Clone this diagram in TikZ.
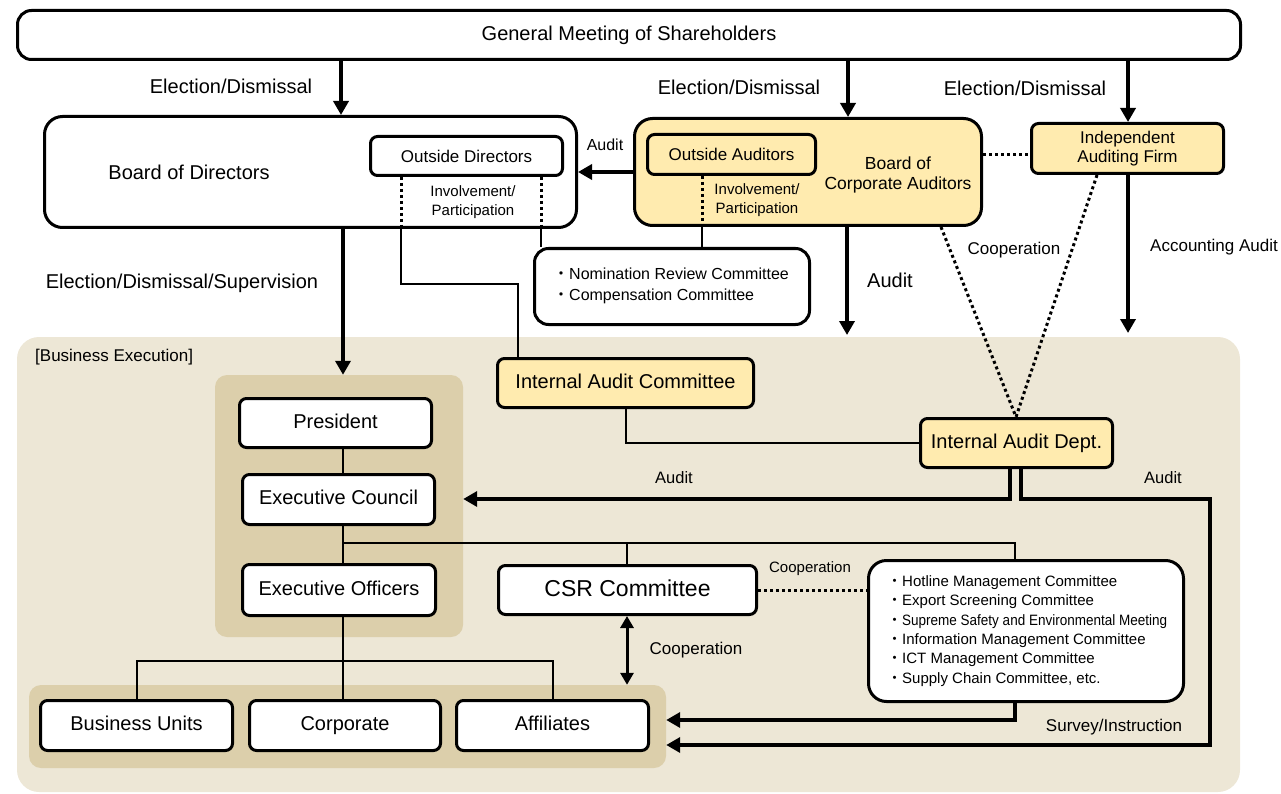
\documentclass[tikz,border=0pt]{standalone}
\usepackage{fontspec}
\setmainfont{Liberation Sans}
\newfontfamily\cjk{Noto Sans CJK JP}
\usetikzlibrary{arrows.meta}
\definecolor{bgbeige}{HTML}{EDE7D6}
\definecolor{grpbeige}{HTML}{DCCFAB}
\definecolor{ylw}{HTML}{FFEBAF}
\newcommand\fsz[2]{\fontsize{#1pt}{#2pt}\selectfont}
\newcommand\jdot{{\cjk ・}}
\tikzset{
  box/.style={draw, line width=3pt, rounded corners=7pt, fill=white, inner sep=0pt, align=center, font=\fsz{20}{24}},
  ybox/.style={box, fill=ylw},
  one/.style={text height=14.5pt, text depth=4pt},
  grp/.style={fill=grpbeige, rounded corners=12pt, inner sep=0pt},
  lbl/.style={inner sep=0pt, align=center, font=\fsz{20}{24}},
  conn/.style={line width=2.2pt},
  dotl/.style={line width=3pt, dash pattern=on 3pt off 3pt},
  arr/.style={line width=4.5pt, -{Triangle[length=14pt,width=15pt]}},
  darr/.style={line width=3pt, {Triangle[length=12pt,width=13pt]}-{Triangle[length=12pt,width=13pt]}},
}
\begin{document}
\begin{tikzpicture}[x=1pt,y=-1pt]
\useasboundingbox (0,0) rectangle (1281,794);
% backgrounds
\node[fill=bgbeige, rounded corners=22pt, minimum width=1223pt, minimum height=455pt, inner sep=0pt] (biz) at (628.5,564.5) {};
\node[grp, minimum width=248pt, minimum height=262pt] (egrp) at (339,506) {};
\node[grp, minimum width=637pt, minimum height=83pt] (bgrp) at (347.5,726.5) {};
\node[lbl, anchor=west, font=\fsz{17}{20}] (bizlbl) at (35,357) {[Business Execution]};
% top boxes
\node[box, one, rounded corners=14pt, minimum width=1223pt, minimum height=49pt] (gm) at (629,35) {General Meeting of Shareholders};
\node[box, rounded corners=18pt, minimum width=532pt, minimum height=111pt] (bod) at (310.5,172) {};
\node[lbl] (bodlbl) at (189,172) {Board of Directors};
\node[box, minimum width=192pt, minimum height=39pt, font=\fsz{17}{20}] (od) at (466.5,156) {Outside Directors};
\node[ybox, rounded corners=18pt, minimum width=347pt, minimum height=107pt] (bca) at (808,172) {};
\node[lbl, font=\fsz{17.5}{19.5}] (bcalbl) at (898,175) {Board of\\Corporate Auditors};
\node[ybox, minimum width=168pt, minimum height=40pt, font=\fsz{17}{20}] (oa) at (731.5,154.5) {Outside Auditors};
\node[ybox, minimum width=192pt, minimum height=50pt, font=\fsz{17}{18.5}] (iaf) at (1127.5,148.5) {Independent\\Auditing Firm};
\node[box, rounded corners=14pt, minimum width=275pt, minimum height=76pt] (nrc) at (672,286.5) {};
\node[lbl, anchor=west, align=left, font=\fsz{16}{21.5}] (nrclbl) at (553,286) {\jdot Nomination Review Committee\\\jdot Compensation Committee};
% labels top
\node[lbl] (ed1) at (231,86) {Election/Dismissal};
\node[lbl] (ed2) at (739,87) {Election/Dismissal};
\node[lbl] (ed3) at (1025,88) {Election/Dismissal};
\node[lbl, font=\fsz{16}{19}] (aud1) at (605,145) {Audit};
\node[lbl, font=\fsz{15}{19}] (inv1) at (473,202) {Involvement/\\Participation};
\node[lbl, font=\fsz{15}{19}] (inv2) at (757,200) {Involvement/\\Participation};
\node[lbl] (aud2) at (890,280) {Audit};
\node[lbl, font=\fsz{17}{20}] (coop1) at (1014,250) {Cooperation};
\node[lbl, font=\fsz{17}{20}] (accaud) at (1214,247) {Accounting Audit};
\node[lbl] (eds) at (182,283) {Election/Dismissal/Supervision};
% execution boxes
\node[box, one, minimum width=192pt, minimum height=49pt] (pres) at (335.5,423) {President};
\node[box, one, minimum width=192pt, minimum height=50pt] (ec) at (338.5,499.5) {Executive Council};
\node[box, one, minimum width=193pt, minimum height=51pt] (eo) at (339,590) {Executive Officers};
\node[ybox, one, minimum width=256pt, minimum height=49pt] (iac) at (625.5,383) {Internal Audit Committee};
\node[ybox, one, minimum width=192pt, minimum height=49pt] (iad) at (1016.5,443) {Internal Audit Dept.};
\node[box, minimum width=258pt, minimum height=49pt, font=\fsz{23}{26}, text height=16.5pt, text depth=4.5pt] (csr) at (627.5,590) {CSR Committee};
\node[box, rounded corners=18pt, minimum width=315pt, minimum height=141pt] (cmt) at (1026,631) {};
\node[lbl, anchor=west, align=left, font=\fsz{15}{19.4}] (cmtlbl) at (887,631) {\jdot Hotline Management Committee\\\jdot Export Screening Committee\\\jdot \scalebox{0.9}[1]{Supreme Safety and Environmental Meeting}\\\jdot Information Management Committee\\\jdot ICT Management Committee\\\jdot Supply Chain Committee, etc.};
\node[box, one, minimum width=192pt, minimum height=50pt] (bu) at (136.5,725.5) {Business Units};
\node[box, one, minimum width=191pt, minimum height=50pt] (corp) at (345,725.5) {Corporate};
\node[box, one, minimum width=192pt, minimum height=50pt] (aff) at (552.5,725.5) {Affiliates};
% labels bottom
\node[lbl, font=\fsz{16.5}{19}] (aud3) at (674,478) {Audit};
\node[lbl, font=\fsz{16.5}{19}] (aud4) at (1163,478) {Audit};
\node[lbl, font=\fsz{15}{18}] (coop2) at (810,569) {Cooperation};
\node[lbl, font=\fsz{17}{20}] (coop3) at (696,650) {Cooperation};
\node[lbl, font=\fsz{17}{20}] (survey) at (1114,727) {Survey/Instruction};
% free ends
\coordinate (auditend) at (847,335);
\coordinate (accend) at (1128,333);
\coordinate (corner) at (1210,499);
% arrows from GM
\draw[arr] (gm.south -| 341,0) -- (bod.north -| 341,0);
\draw[arr] (gm.south -| 848,0) -- (bca.north -| 848,0);
\draw[arr] (gm.south -| 1128,0) -- (iaf.north -| 1128,0);
% audit BCA -> BoD
\draw[arr] (bca.west |- 0,172) -- (bod.east |- 0,172);
% involvement lines
\draw[dotl] (od.south -| 401,0) -- (bod.south -| 401,0);
\draw[conn] (bod.south -| 401,0) -- ++(0,55) -| (iac.north -| 518,0);
\draw[dotl] (od.south -| 541,0) -- (bod.south -| 541,0);
\draw[conn] (bod.south -| 541,0) -- (nrc.north -| 541,0);
\draw[dotl] (oa.south -| 702,0) -- (bca.south -| 702,0);
\draw[conn] (bca.south -| 702,0) -- (nrc.north -| 702,0);
% BCA audit, accounting audit
\draw[arr] (bca.south -| 847,0) -- (auditend);
\draw[arr] (iaf.south -| 1128,0) -- (accend);
\draw[dotl] (bca.east |- 0,155) -- (iaf.west |- 0,155);
\draw[dotl] (bca.south -| 941,0) -- (iad.north -| 1016,0);
\draw[dotl] (iaf.south -| 1097,0) -- (iad.north -| 1016,0);
% BoD -> execution
\draw[arr] (bod.south -| 343,0) -- (egrp.north -| 343,0);
\draw[conn] (pres.south -| 343,0) -- (ec.north -| 343,0);
\draw[conn] (ec.south -| 343,0) -- (eo.north -| 343,0);
\draw[conn] (ec.south -| 343,0) -- ++(0,17) -| (csr.north -| 627,0);
\draw[conn] (ec.south -| 343,0) -- ++(0,17) -| (cmt.north -| 1015,0);
% internal audit
\draw[conn] (iac.south -| 626,0) |- (iad.west);
\draw[arr] (iad.south -| 1010,0) |- (egrp.east |- 0,499);
\draw[arr] (iad.south -| 1021,0) |- (corner) |- (bgrp.east |- 0,745);
\draw[arr] (cmt.south -| 1015,0) |- (bgrp.east |- 0,720);
% CSR
\draw[dotl] (csr.east |- 0,590) -- (cmt.west |- 0,590);
\draw[darr] (csr.south -| 627,0) -- (bgrp.north -| 627,0);
% exec officers -> units
\draw[conn] (eo.south -| 343,0) -- (corp.north -| 343,0);
\draw[conn] (bu.north -| 137,0) -- ++(0,-38) -| (aff.north -| 553,0);
\end{tikzpicture}
\end{document}
